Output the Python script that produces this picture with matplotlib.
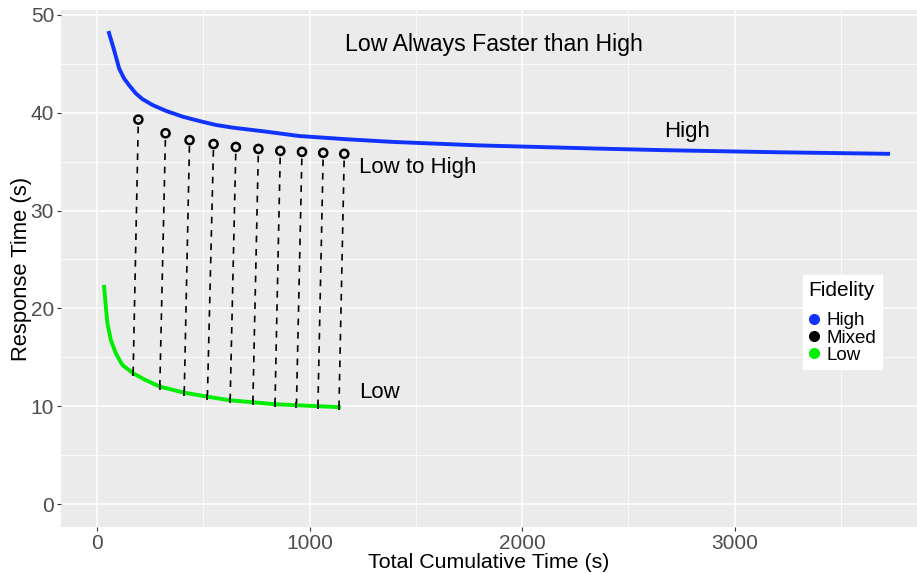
import numpy as np
import matplotlib
matplotlib.use("Agg")
from matplotlib import pyplot as plt
from matplotlib.lines import Line2D

# learning curves: cumulative time (s) vs response time (s)
high_x = [56, 80, 104, 127, 151, 182, 213, 260, 323, 402, 480, 559, 637, 794, 951,
          1180, 1389, 1798, 2006, 2363, 2674, 3200, 3722]
high_y = [48.16, 46.4, 44.5, 43.5, 42.8, 41.98, 41.4, 40.8, 40.2, 39.6, 39.16, 38.75, 38.48,
          38.07, 37.62, 37.28, 37.02, 36.66, 36.54, 36.33, 36.17, 35.96, 35.8]

low_x = [33, 41, 48.5, 64.5, 88, 119, 169.5, 221, 295, 410, 519, 626, 733, 837, 938, 1039, 1138]
low_y = [22.2, 20.17, 18.48, 16.77, 15.4, 14.21, 13.36, 12.75, 12.0, 11.38, 10.97, 10.6,
         10.4, 10.2, 10.1, 10.0, 9.9]

# switching from low to high after n low trials
switch_low_x = [169.5, 295, 410, 519, 626, 733, 837, 938, 1039, 1138]
switch_low_y = [13.36, 12.0, 11.38, 10.97, 10.6, 10.4, 10.2, 10.1, 10.0, 9.9]
mixed_x = [194, 322, 435, 548, 653, 759, 862, 964, 1064, 1163]
mixed_y = [39.3, 37.9, 37.2, 36.8, 36.5, 36.3, 36.1, 36.0, 35.9, 35.8]

fidelity = ["High", "Mixed", "Low"]
colors = {"High": "#1133ff", "Mixed": "black", "Low": "#00ee00"}

plt.rcParams["font.family"] = ["Liberation Sans", "DejaVu Sans"]

fig = plt.figure(figsize=(9.17, 5.73), dpi=100)
ax = fig.add_axes([0.0665, 0.0803, 0.9335, 0.9022])
ax.set_facecolor("#ebebeb")
for s in ax.spines.values():
    s.set_visible(False)

ax.set_xlim(-170, 3858)
ax.set_ylim(-2.35, 50.5)
ax.set_xticks([0, 1000, 2000, 3000])
ax.set_xticks([500, 1500, 2500, 3500], minor=True)
ax.set_yticks([0, 10, 20, 30, 40, 50])
ax.set_yticks([5, 15, 25, 35, 45], minor=True)
ax.grid(which="major", color="white", linewidth=1.1)
ax.grid(which="minor", color="white", linewidth=0.55)
ax.set_axisbelow(True)
ax.tick_params(which="major", length=3, color="#333333", labelcolor="#4d4d4d",
               labelsize=15, pad=2)
ax.tick_params(which="minor", length=0)

# dashed connectors from each low point up to the mixed point
for x0, y0, x1, y1 in zip(switch_low_x, switch_low_y, mixed_x, mixed_y):
    ax.plot([x0, x1], [y0, y1], color="black", linestyle=(0, (4, 4)), linewidth=1.2, zorder=2)

ax.plot(high_x, high_y, color=colors["High"], linewidth=2.8, zorder=3, solid_joinstyle="round")
ax.plot(low_x, low_y, color=colors["Low"], linewidth=2.8, zorder=3, solid_joinstyle="round")
ax.scatter(switch_low_x, switch_low_y, marker="|", s=20, color="black", linewidth=1.2, zorder=4)
ax.scatter(mixed_x, mixed_y, s=34, facecolors="none", edgecolors="black", linewidths=1.8, zorder=4)

ax.text(1869, 47.0, "Low Always Faster than High", fontsize=16.7, ha="center", va="center")
ax.text(2778, 38.1, "High", fontsize=16, ha="center", va="center")
ax.text(1234, 34.4, "Low to High", fontsize=16, ha="left", va="center")
ax.text(1234, 11.4, "Low", fontsize=16, ha="left", va="center")

ax.set_xlabel("Total Cumulative Time (s)", fontsize=15.4, labelpad=0)
ax.set_ylabel("Response Time (s)", fontsize=15.8)
ax.yaxis.set_label_coords(-0.034, 0.5)

handles = [Line2D([], [], marker="o", linestyle="none", markersize=7, color=colors[f]) for f in fidelity]
leg = ax.legend(handles, fidelity, title="Fidelity", loc="upper left", bbox_to_anchor=(0.8667, 0.487),
                fontsize=13.5, title_fontsize=15, frameon=True, fancybox=False, edgecolor="white",
                facecolor="white", framealpha=1, handletextpad=0.35, labelspacing=0.0,
                borderpad=0.3, handlelength=0.6, borderaxespad=0)
leg._legend_box.align = "left"
leg._legend_box.sep = 9

fig.savefig("out.png", dpi=100)
